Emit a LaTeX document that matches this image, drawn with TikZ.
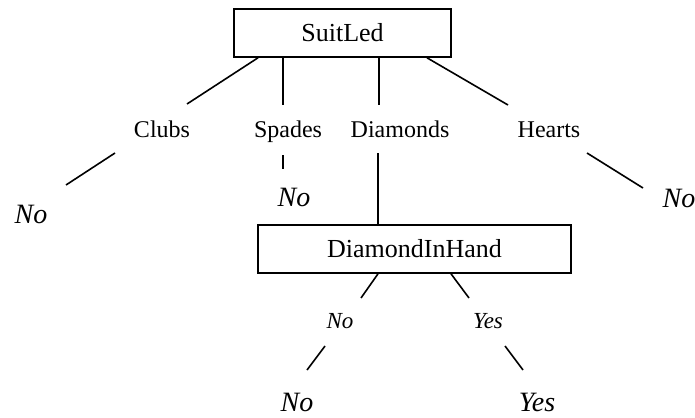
\documentclass[tikz,border=0pt]{standalone}
\usepackage{fontspec}
\setmainfont{Liberation Serif}
\usepackage{tikz}
\usetikzlibrary{positioning}
\tikzset{
  attr/.style  ={draw, line width=1.6pt, minimum height=48pt, inner sep=0pt, font=\fontsize{26}{30}\selectfont},
  val/.style   ={anchor=base, inner sep=0pt, font=\fontsize{24}{28}\selectfont},
  ans/.style   ={anchor=base, inner sep=0pt, font=\fontsize{23}{27}\selectfont\itshape},
  leaf/.style  ={anchor=base, inner sep=0pt, font=\fontsize{28}{32}\selectfont\itshape},
  branch/.style={line width=1.6pt},
}

\begin{document}
\begin{tikzpicture}[x=1pt, y=-1pt]
  \useasboundingbox (0,0) rectangle (695,417);
  \node[attr, minimum width=217pt] (suit) at (342.5,33) {SuitLed};
  \node[val] (clubs) at (162,137) {Clubs};
  \node[val] (spades) at (288,137) {Spades};
  \node[val] (diam) at (400,137) {Diamonds};
  \node[val] (hearts) at (549,137) {Hearts};
  \node[leaf] (noclubs) at (31,223) {No};
  \node[leaf] (nospades) at (294,206) {No};
  \node[leaf] (nohearts) at (679,207) {No};
  \node[attr, minimum width=313pt] (inhand) at (414.5,249) {DiamondInHand};
  \node[ans] (no) at (340,328) {No};
  \node[ans] (yes) at (488,328) {Yes};
  \node[leaf] (nodiam) at (297,411) {No};
  \node[leaf] (yesdiam) at (537,411) {Yes};
  % first split
  \draw[branch] ([xshift=-84.5pt]suit.south) -- ([xshift=25pt,yshift=33pt]clubs.base);
  \draw[branch] ([xshift=-59.5pt]suit.south) -- ([xshift=-5pt,yshift=32pt]spades.base);
  \draw[branch] ([xshift=36.5pt]suit.south) -- ([xshift=-21pt,yshift=32pt]diam.base);
  \draw[branch] ([xshift=84.5pt]suit.south) -- ([xshift=-41pt,yshift=32pt]hearts.base);
  \draw[branch] ([xshift=-47pt,yshift=-16pt]clubs.base) -- ([xshift=35pt,yshift=38pt]noclubs.base);
  \draw[branch] ([xshift=-5pt,yshift=-18pt]spades.base) -- ([xshift=-11pt,yshift=37pt]nospades.base);
  \draw[branch] ([xshift=38pt,yshift=-16pt]hearts.base) -- ([xshift=-36pt,yshift=19pt]nohearts.base);
  \draw[branch] ([xshift=-22pt,yshift=-16pt]diam.base) -- ([xshift=-36.5pt]inhand.north);
  % second split
  \draw[branch] ([xshift=-36.5pt]inhand.south) -- ([xshift=21pt,yshift=30pt]no.base);
  \draw[branch] ([xshift=36.5pt]inhand.south) -- ([xshift=-19pt,yshift=30pt]yes.base);
  \draw[branch] ([xshift=-15pt,yshift=-18pt]no.base) -- ([xshift=10pt,yshift=41pt]nodiam.base);
  \draw[branch] ([xshift=17pt,yshift=-18pt]yes.base) -- ([xshift=-14pt,yshift=41pt]yesdiam.base);
\end{tikzpicture}
\end{document}
